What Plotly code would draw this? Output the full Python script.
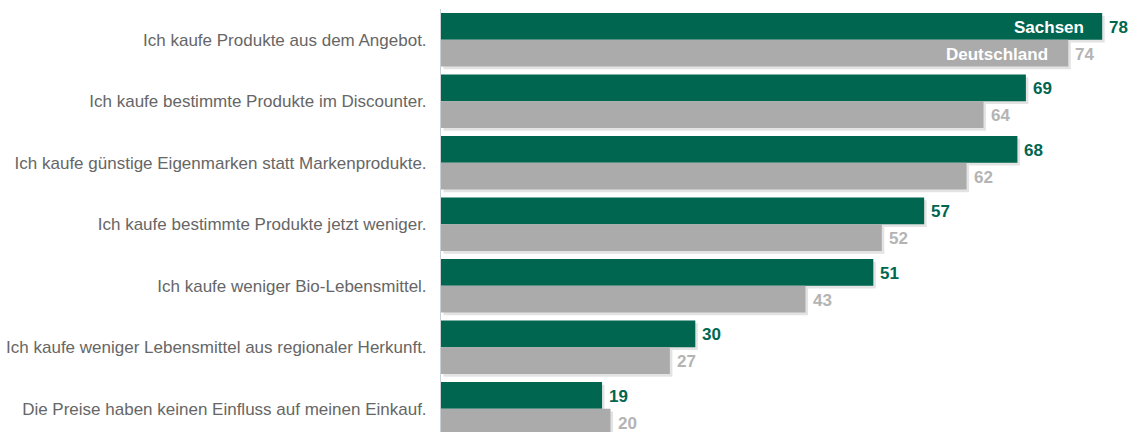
import plotly.graph_objects as go

categories = [
    "Ich kaufe Produkte aus dem Angebot.",
    "Ich kaufe bestimmte Produkte im Discounter.",
    "Ich kaufe günstige Eigenmarken statt Markenprodukte.",
    "Ich kaufe bestimmte Produkte jetzt weniger.",
    "Ich kaufe weniger Bio-Lebensmittel.",
    "Ich kaufe weniger Lebensmittel aus regionaler Herkunft.",
    "Die Preise haben keinen Einfluss auf meinen Einkauf.",
]
sachsen = [78, 69, 68, 57, 51, 30, 19]
deutschland = [74, 64, 62, 52, 43, 27, 20]

GREEN = "#006650"
GREY = "#ABABAB"
LABEL_FONT = "Liberation Sans, Arial, sans-serif"
BAR_W = 0.435

pos = list(range(len(categories)))

fig = go.Figure()

# soft drop shadows behind the bars
for vals, off in ((sachsen, -BAR_W), (deutschland, 0.0)):
    fig.add_trace(go.Bar(
        y=pos, x=vals, base=0.3, orientation="h",
        width=BAR_W, offset=off + 0.045,
        marker=dict(color="rgba(0,0,0,0.11)", line=dict(width=0)),
        hoverinfo="skip", showlegend=False,
    ))

fig.add_trace(go.Bar(
    y=pos, x=sachsen, orientation="h", name="Sachsen",
    width=BAR_W, offset=-BAR_W,
    marker=dict(color=GREEN, line=dict(width=0)),
    showlegend=False,
))
fig.add_trace(go.Bar(
    y=pos, x=deutschland, orientation="h", name="Deutschland",
    width=BAR_W, offset=0.0,
    marker=dict(color=GREY, line=dict(width=0)),
    showlegend=False,
))

annotations = []
for i, (s, d) in enumerate(zip(sachsen, deutschland)):
    annotations.append(dict(
        x=s, y=i - BAR_W / 2, text=f"<b>{s}</b>", showarrow=False,
        xanchor="left", xshift=5, yshift=-1,
        font=dict(family=LABEL_FONT, size=17, color=GREEN),
    ))
    annotations.append(dict(
        x=d, y=i + BAR_W / 2, text=f"<b>{d}</b>", showarrow=False,
        xanchor="left", xshift=5, yshift=-1,
        font=dict(family=LABEL_FONT, size=17, color="#B4B4B4"),
    ))

# series names written inside the first pair of bars
annotations.append(dict(
    x=sachsen[0], y=-BAR_W / 2, text="<b>Sachsen</b>", showarrow=False,
    xanchor="right", xshift=-16, yshift=-1,
    font=dict(family=LABEL_FONT, size=17, color="white"),
))
annotations.append(dict(
    x=deutschland[0], y=BAR_W / 2, text="<b>Deutschland</b>", showarrow=False,
    xanchor="right", xshift=-18, yshift=-1,
    font=dict(family=LABEL_FONT, size=17, color="white"),
))

fig.update_layout(
    width=1131, height=432,
    margin=dict(l=441, r=0, t=9, b=0),
    paper_bgcolor="white", plot_bgcolor="white",
    barmode="overlay",
    annotations=annotations,
    xaxis=dict(range=[0, 81.4], visible=False, fixedrange=True),
    yaxis=dict(
        range=[6.38, -0.5],
        tickvals=pos, ticktext=categories,
        showgrid=False, zeroline=False,
        showline=True, linecolor="#C9D0D8", linewidth=1,
        ticks="", ticklabelstandoff=10,
        tickfont=dict(family=LABEL_FONT, size=17, color="#666666"),
    ),
)

fig.write_html("out.html")
